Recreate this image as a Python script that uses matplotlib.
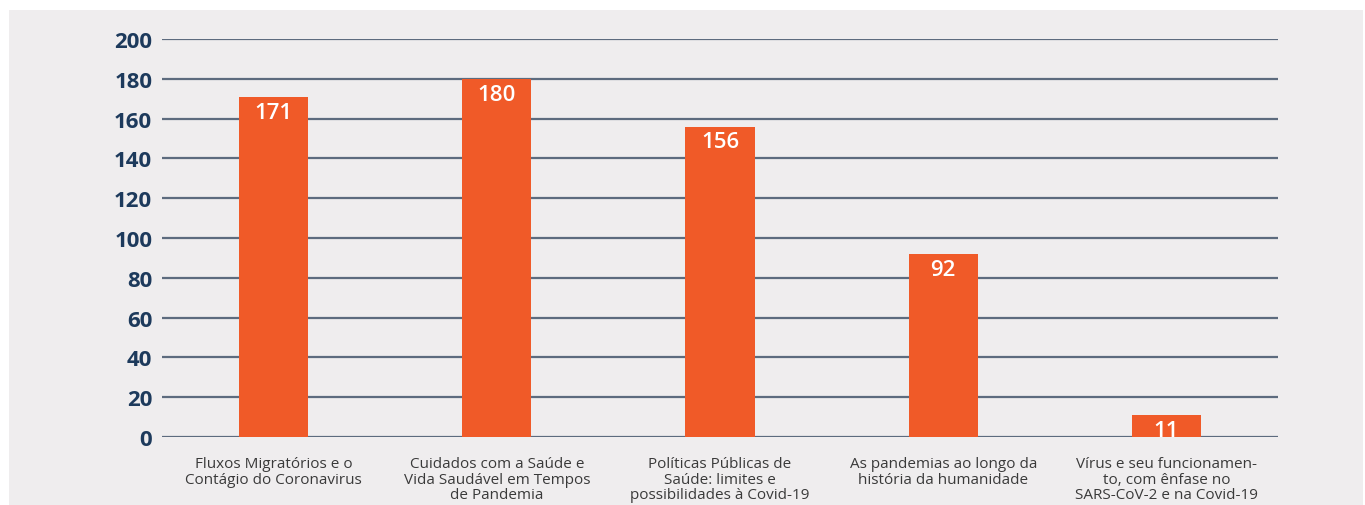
import matplotlib
matplotlib.use("Agg")
import matplotlib.pyplot as plt
from matplotlib.patches import Rectangle

categories = [
    "Fluxos Migratórios e o\nContágio do Coronavirus",
    "Cuidados com a Saúde e\nVida Saudável em Tempos\nde Pandemia",
    "Políticas Públicas de\nSaúde: limites e\npossibilidades à Covid-19",
    "As pandemias ao longo da\nhistória da humanidade",
    "Vírus e seu funcionamen-\nto, com ênfase no\nSARS-CoV-2 e na Covid-19",
]
values = [171, 180, 156, 92, 11]
yticks = [0, 20, 40, 60, 80, 100, 120, 140, 160, 180, 200]

plt.rcParams['font.family'] = ['Open Sans', 'DejaVu Sans']

fig = plt.figure(figsize=(13.65, 5.06), dpi=100)
fig.patch.set_facecolor("white")
fig.patches.append(Rectangle((9/1365, -0.1), (1363-9)/1365, 1.1 - 11/506,
                             transform=fig.transFigure, facecolor="#efedee",
                             edgecolor="none", zorder=-10))
ax = fig.add_axes([162/1365, 68/506, (1278-162)/1365, (438-40)/506])
ax.set_facecolor("none")

x = list(range(len(values)))
bars = ax.bar(x, values, width=0.31, color="#f05a28", zorder=3)
for xi, v in zip(x, values):
    ax.annotate(str(v), (xi, v), xytext=(0, -3.5), textcoords="offset points",
                ha="center", va="top", color="white", fontsize=16,
                fontweight="semibold", zorder=4)

ax.set_xlim(-0.5, 4.5)
ax.set_ylim(0, 200)
ax.set_yticks(yticks)
ax.set_yticklabels([str(t) for t in yticks])
for t in yticks:
    ax.axhline(t, color="#5d6b7e", lw=1.6, zorder=1)
for s in ax.spines.values():
    s.set_visible(False)
ax.tick_params(axis="y", length=0, pad=7, labelsize=16, labelcolor="#1d3a5c")
for lab in ax.get_yticklabels():
    lab.set_fontweight("bold")
ax.set_xticks(x)
ax.set_xticklabels(categories, fontsize=11, color="#3a3a3a", linespacing=1.02)
ax.tick_params(axis="x", length=0, pad=14)

fig.savefig("out.png", dpi=100, facecolor=fig.get_facecolor())
